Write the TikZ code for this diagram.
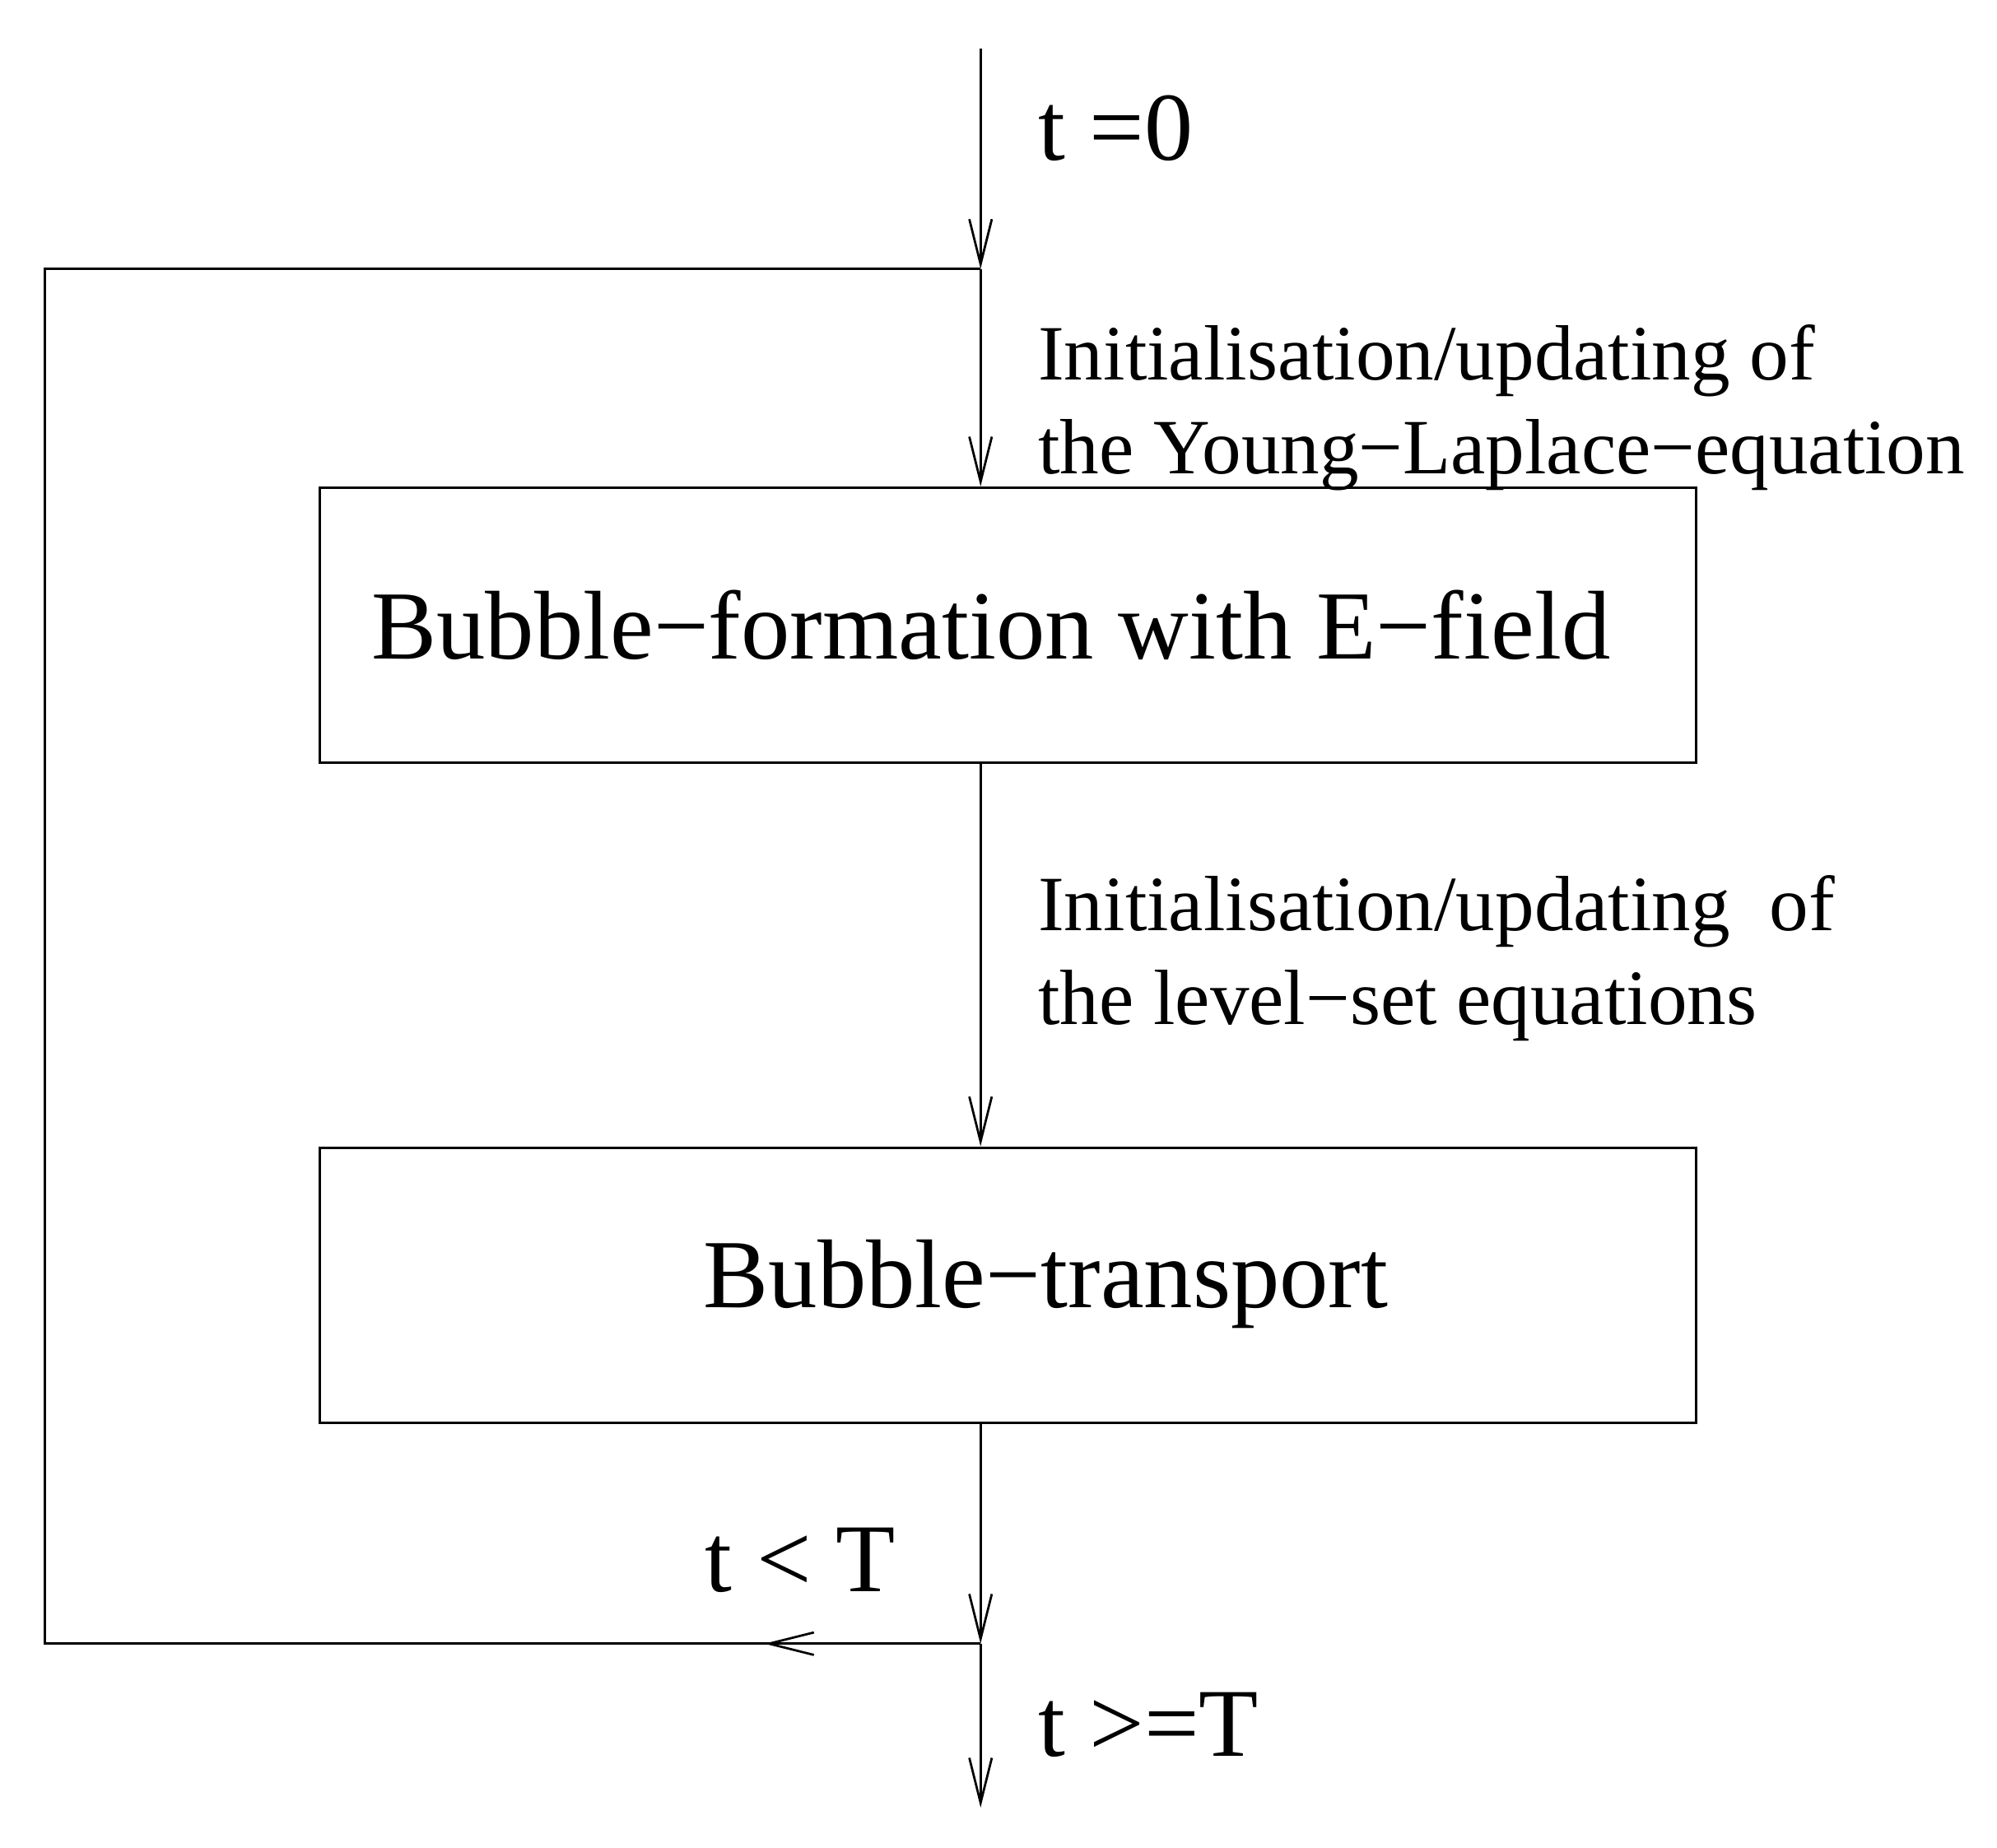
\documentclass[tikz,border=0pt]{standalone}
\usepackage{fontspec}
\setmainfont{Liberation Serif}
\usetikzlibrary{arrows.meta}
\begin{document}
\begin{tikzpicture}[x=0.01cm,y=-0.01cm,
  line width=0.6pt,
  arr/.style={-{Straight Barb[length=10pt,width=5pt,line width=0.5pt]}},
  box/.style={draw,minimum width=1075*0.01cm,minimum height=215*0.01cm,inner sep=0pt},
  lbl/.style={anchor=base west,inner sep=0pt,font=\fontsize{17.4}{20}\selectfont},
  big/.style={anchor=base west,inner sep=0pt,font=\fontsize{21.6}{25}\selectfont}]
\useasboundingbox (0,0) rectangle (1560,1443);
\node[box] (b1) at (787.5,488.5) {};
\node[font=\fontsize{21.7}{26}\selectfont] at (774,488) {Bubble−formation with E−field};
\node[box] (b2) at (787.5,1004) {};
\node[font=\fontsize{21.7}{26}\selectfont] at (817,1003) {Bubble−transport};
\coordinate (top) at (766,38);
\coordinate (j1) at (766,210);
\coordinate (j2) at (766,1284);
\coordinate (bot) at (766,1412);
\coordinate (tl) at (35,210);
\coordinate (bl) at (35,1284);
\coordinate (la) at (597,1284);
\draw[arr] (top) -- (j1);
\draw[arr] (j1) -- (b1.north-|j1);
\draw[arr] (b1.south-|j1) -- (b2.north-|j1);
\draw[arr] (b2.south-|j1) -- (j2);
\draw[arr] (j2) -- (bot);
\draw (j1) -- (tl) -- (bl) -- (j2);
\draw[arr] (j2) -- (la);
\node[big] (t0) at (810,125) {t =0};
\node[lbl] (l1) at (810,297) {Initialisation/updating of};
\node[lbl] (l2) at (810,370) {the Young−Laplace−equation};
\node[lbl] (l3) at (810,727) {Initialisation/updating~~of};
\node[lbl] (l4) at (810,800) {the level−set equations};
\node[big] (tlt) at (550,1243) {t < T};
\node[big] (tge) at (810,1372) {t >=T};
\end{tikzpicture}
\end{document}
